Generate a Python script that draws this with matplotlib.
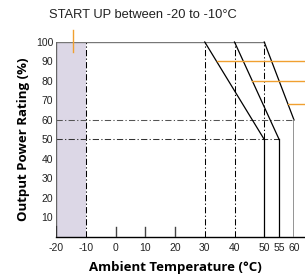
import matplotlib.pyplot as plt

# derating curves (temperature, output %)
curve_temps = [[30, 50, 50], [40, 55, 55], [50, 60, 60]]
curve_loads = [[100, 50, 0], [100, 50, 0], [100, 60, 0]]
startup_range = [-20, -10]
guide_temps = [-10, 30, 40]
guide_loads = [60, 50]
callout_loads = [90, 80, 68]

xticks = [-20, -10, 0, 10, 20, 30, 40, 50, 55, 60]
yticks = [10, 20, 30, 40, 50, 60, 70, 80, 90, 100]

plt.rcParams['font.family'] = ['Liberation Sans', 'DejaVu Sans']
fig = plt.figure(figsize=(3.05, 2.8), dpi=100)
ax = fig.add_axes([0.1836, 0.1536, 0.7804, 0.6964])
ax.set_xlim(-20, 60)
ax.set_ylim(0, 100)
for s in ax.spines.values():
    s.set_visible(False)

dash = (0, (6, 2.2, 1.2, 2.2))
lw = 0.75

# start-up shaded band
ax.axvspan(startup_range[0], startup_range[1], color='#dcd7e6', lw=0)

# dash-dot guide lines
for t in guide_temps:
    ax.plot([t, t], [0, 100], color='black', lw=lw, ls=dash)
ax.plot([50, 50], [50, 100], color='black', lw=lw, ls=dash)
ax.plot([-20, 60], [guide_loads[0]] * 2, color='#555555', lw=lw, ls=dash)
ax.plot([-20, 55], [guide_loads[1]] * 2, color='#333333', lw=lw, ls=dash)

# frame
ax.plot([-20, 50], [100, 100], color='#777777', lw=1.0)
ax.plot([-20, -20], [0, 100], color='#666666', lw=1.0)
ax.plot([-20, 64], [0, 0], color='black', lw=1.0, clip_on=False)

# derating curves
for tx, ly in zip(curve_temps, curve_loads):
    ax.plot(tx[:2], ly[:2], color='black', lw=0.9, clip_on=False)
    ax.plot(tx[1:], ly[1:], color='#777777' if tx[1] == 60 else 'black',
            lw=0.9 if tx[1] != 60 else 1.1)

# orange callouts
for (tx, ly), y in zip(zip(curve_temps, curve_loads), callout_loads):
    x0 = tx[0] + (tx[1] - tx[0]) * (ly[0] - y) / (ly[0] - ly[1])
    ax.plot([x0, 64], [y, y], color='#f0a030', lw=1.0, clip_on=False)
ax.plot([-14.4, -14.4], [95, 106], color='#f0a030', lw=1.0, clip_on=False)

# inner x ticks
for t in [0, 10, 20]:
    ax.plot([t, t], [0, 5], color='#444444', lw=1.0)
ax.plot([-20, -20], [0, 5], color='#333333', lw=1.6)

ax.set_xticks(xticks)
ax.set_xticklabels([str(t) for t in xticks])
ax.set_yticks(yticks)
ax.set_yticklabels([str(t) for t in yticks])
ax.tick_params(length=0, labelsize=7.5, pad=4, colors='#222222')
ax.tick_params(axis='y', pad=2)

fig.text(0.47, 0.946, 'START UP between -20 to -10°C', ha='center',
         va='center', fontsize=9.3, color='#222222')
ax.set_xlabel('Ambient Temperature (°C)', fontsize=9.5, fontweight='bold',
              family='Open Sans', labelpad=6)
ax.set_ylabel('Output Power Rating (%)', fontsize=9.5, fontweight='bold',
              family='Open Sans', labelpad=4)

fig.savefig('out.png', dpi=100)
